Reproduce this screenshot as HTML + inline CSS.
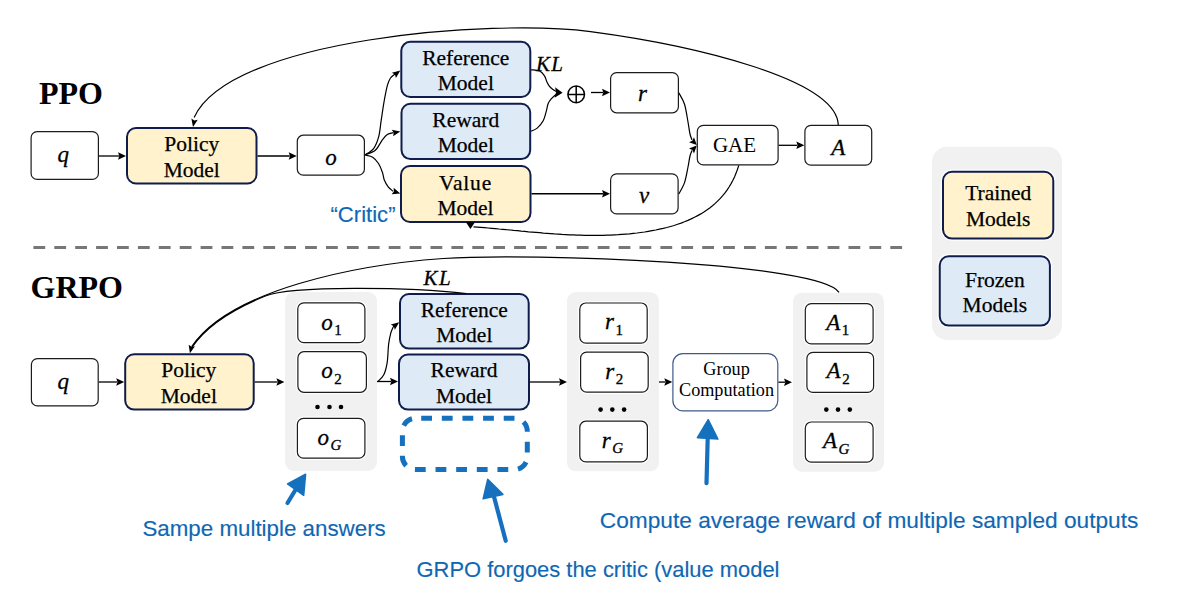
<!DOCTYPE html>
<html><head><meta charset="utf-8"><title>PPO vs GRPO</title>
<style>html,body{margin:0;padding:0;background:#fff;}svg{display:block;} .st{stroke:#000;stroke-width:0.25px;} .mi{stroke:#000;stroke-width:0.3px;} .an{stroke:#0f67b3;stroke-width:0.15px;}</style>
</head><body>
<svg width="1200" height="616" viewBox="0 0 1200 616">
<rect width="1200" height="616" fill="#fff"/>
<text x="39" y="104" font-family="'Liberation Serif', serif" font-size="32" text-anchor="start" font-weight="bold" font-style="normal" fill="#000" >PPO</text>
<rect x="31.10" y="131.60" width="67.30" height="47.80" rx="6" fill="#ffffff" stroke="#1c1c1c" stroke-width="1.2"/>
<text x="63.2" y="162" font-family="'Liberation Serif', serif" font-size="23" text-anchor="middle" font-weight="normal" font-style="italic" fill="#000" class="mi">q</text>
<rect x="127.00" y="128.00" width="129.50" height="55.50" rx="9" fill="#fff2cc" stroke="#0f1c4d" stroke-width="2"/>
<text x="191.75" y="151" font-family="'Liberation Serif', serif" font-size="21.5" text-anchor="middle" font-weight="normal" font-style="normal" fill="#000" class="st">Policy</text>
<text x="191.75" y="176.5" font-family="'Liberation Serif', serif" font-size="21.5" text-anchor="middle" font-weight="normal" font-style="normal" fill="#000" class="st">Model</text>
<path d="M99,156 L119,156" fill="none" stroke="#000" stroke-width="1.3" />
<path d="M126.00,156.00 L118.00,159.75 L119.30,156.00 L118.00,152.25 Z" fill="#000"/>
<rect x="297.30" y="135.20" width="67.10" height="40.00" rx="6" fill="#ffffff" stroke="#1c1c1c" stroke-width="1.2"/>
<text x="331" y="164.5" font-family="'Liberation Serif', serif" font-size="23" text-anchor="middle" font-weight="normal" font-style="italic" fill="#000" class="mi">o</text>
<path d="M257.5,156 L289.7,156" fill="none" stroke="#000" stroke-width="1.3" />
<path d="M296.70,156.00 L288.70,159.75 L290.00,156.00 L288.70,152.25 Z" fill="#000"/>
<rect x="401.30" y="41.80" width="129.00" height="55.20" rx="9" fill="#deebf7" stroke="#0f1c4d" stroke-width="2"/>
<text x="465.8" y="64.7" font-family="'Liberation Serif', serif" font-size="21.5" text-anchor="middle" font-weight="normal" font-style="normal" fill="#000" class="st">Reference</text>
<text x="465.8" y="90" font-family="'Liberation Serif', serif" font-size="21.5" text-anchor="middle" font-weight="normal" font-style="normal" fill="#000" class="st">Model</text>
<rect x="401.50" y="103.70" width="128.70" height="55.40" rx="9" fill="#deebf7" stroke="#0f1c4d" stroke-width="2"/>
<text x="465.8" y="126.5" font-family="'Liberation Serif', serif" font-size="21.5" text-anchor="middle" font-weight="normal" font-style="normal" fill="#000" class="st">Reward</text>
<text x="465.8" y="152" font-family="'Liberation Serif', serif" font-size="21.5" text-anchor="middle" font-weight="normal" font-style="normal" fill="#000" class="st">Model</text>
<rect x="401.00" y="166.00" width="129.50" height="56.00" rx="9" fill="#fff2cc" stroke="#0f1c4d" stroke-width="2"/>
<text x="465.5" y="189.8" font-family="'Liberation Serif', serif" font-size="21.5" text-anchor="middle" font-weight="normal" font-style="normal" fill="#000" class="st" letter-spacing="0.8">Value</text>
<text x="465.5" y="215.3" font-family="'Liberation Serif', serif" font-size="21.5" text-anchor="middle" font-weight="normal" font-style="normal" fill="#000" class="st">Model</text>
<text x="363" y="221.5" font-family="'Liberation Sans', sans-serif" font-size="22" text-anchor="middle" font-weight="normal" font-style="normal" fill="#0f67b3" class="an" textLength="65" lengthAdjust="spacingAndGlyphs">“Critic”</text>
<path d="M365.1,154.8 C366.5,153.8 371.3,151.6 373.6,148.6 C375.9,145.6 377.4,141.5 378.7,136.7 C380.0,131.9 380.4,125.4 381.3,119.7 C382.2,114.0 382.9,108.3 383.9,102.6 C384.9,96.9 386.2,89.7 387.3,85.6 C388.4,81.5 389.2,79.9 390.5,78.0 C391.8,76.1 394.2,74.7 395.0,74.0" fill="none" stroke="#000" stroke-width="1.2" />
<path d="M400.30,70.60 L395.94,78.12 L394.94,74.62 L391.86,72.68 Z" fill="#000"/>
<path d="M365.1,154.8 C366.8,154.1 372.5,152.8 375.3,150.3 C378.1,147.9 380.2,142.7 382.2,140.1 C384.2,137.5 385.4,135.8 387.3,134.6 C389.2,133.3 392.5,132.9 393.5,132.6" fill="none" stroke="#000" stroke-width="1.2" />
<path d="M400.30,131.40 L393.12,136.30 L393.73,132.71 L391.79,129.63 Z" fill="#000"/>
<path d="M365.1,155.0 C366.4,155.4 370.5,155.8 372.7,157.2 C374.9,158.6 376.9,161.0 378.5,163.5 C380.1,166.0 381.4,169.6 382.4,172.3 C383.4,175.1 383.3,177.6 384.3,180.0 C385.3,182.4 386.7,185.0 388.2,186.9 C389.7,188.8 392.3,190.6 393.1,191.3" fill="none" stroke="#000" stroke-width="1.2" />
<path d="M400.30,193.40 L391.66,194.36 L393.88,191.47 L393.61,187.84 Z" fill="#000"/>
<text x="536" y="70.5" font-family="'Liberation Serif', serif" font-size="21" text-anchor="start" font-weight="normal" font-style="italic" fill="#000" class="mi" letter-spacing="1.3">KL</text>
<path d="M531.1,69.8 C532.5,70.0 537.4,70.0 539.6,71.0 C541.8,72.0 543.3,74.0 544.5,75.8 C545.7,77.6 546.1,80.2 546.9,81.9 C547.7,83.6 548.3,84.9 549.3,86.2 C550.3,87.5 551.7,88.5 553.0,89.5 C554.3,90.5 556.3,91.6 557.0,92.0" fill="none" stroke="#000" stroke-width="1.2" />
<path d="M531.1,131.2 C532.1,130.7 535.2,129.8 537.2,128.1 C539.2,126.4 541.7,123.6 543.2,120.8 C544.7,118.0 545.5,113.9 546.3,111.1 C547.1,108.3 547.3,105.8 548.1,103.8 C548.9,101.8 549.7,100.6 551.2,98.9 C552.7,97.2 556.0,94.4 557.0,93.5" fill="none" stroke="#000" stroke-width="1.2" />
<path d="M562.60,92.80 L554.55,97.65 L556.11,92.48 L555.07,87.17 Z" fill="#000"/>
<circle cx="576.2" cy="94.4" r="8.3" fill="none" stroke="#000" stroke-width="1.5"/>
<path d="M567.9,94.4 L584.5,94.4 M576.2,86.1 L576.2,102.7" fill="none" stroke="#000" stroke-width="1.5" />
<path d="M591,92.5 L603,92.5" fill="none" stroke="#000" stroke-width="1.3" />
<path d="M610.00,92.50 L602.00,96.25 L603.30,92.50 L602.00,88.75 Z" fill="#000"/>
<rect x="610.60" y="72.60" width="67.80" height="40.20" rx="6" fill="#ffffff" stroke="#1c1c1c" stroke-width="1.2"/>
<text x="642.5" y="101" font-family="'Liberation Serif', serif" font-size="23" text-anchor="middle" font-weight="normal" font-style="italic" fill="#000" class="mi">r</text>
<rect x="610.60" y="173.90" width="67.50" height="40.00" rx="6" fill="#ffffff" stroke="#1c1c1c" stroke-width="1.2"/>
<text x="644" y="202.5" font-family="'Liberation Serif', serif" font-size="23" text-anchor="middle" font-weight="normal" font-style="italic" fill="#000" class="mi">v</text>
<path d="M531.5,193.75 L603,193.75" fill="none" stroke="#000" stroke-width="1.3" />
<path d="M610.00,193.75 L602.00,197.50 L603.30,193.75 L602.00,190.00 Z" fill="#000"/>
<rect x="697.30" y="125.40" width="80.80" height="39.50" rx="6" fill="#ffffff" stroke="#1c1c1c" stroke-width="1.2"/>
<text x="734.5" y="151.6" font-family="'Liberation Serif', serif" font-size="21" text-anchor="middle" font-weight="normal" font-style="normal" fill="#000" >GAE</text>
<path d="M678.8,92.8 C679.8,94.8 683.1,99.6 684.6,104.5 C686.1,109.4 687.1,117.1 688.0,122.0 C688.9,126.9 689.3,131.0 690.0,134.0 C690.7,137.0 691.7,139.0 692.0,140.0" fill="none" stroke="#000" stroke-width="1.2" />
<path d="M696.80,145.10 L689.02,142.27 L692.42,140.72 L693.97,137.32 Z" fill="#000"/>
<path d="M678.8,194.0 C679.8,192.1 683.1,186.9 684.6,182.4 C686.1,177.9 687.1,171.4 688.0,167.0 C688.9,162.6 689.3,158.8 690.0,156.0 C690.7,153.2 691.7,151.4 692.0,150.5" fill="none" stroke="#000" stroke-width="1.2" />
<path d="M696.80,145.60 L693.97,153.38 L692.42,149.98 L689.02,148.43 Z" fill="#000"/>
<path d="M778.7,145.3 L797.3,145.3" fill="none" stroke="#000" stroke-width="1.3" />
<path d="M804.30,145.30 L796.30,149.05 L797.60,145.30 L796.30,141.55 Z" fill="#000"/>
<rect x="804.90" y="125.40" width="66.80" height="39.80" rx="6" fill="#ffffff" stroke="#1c1c1c" stroke-width="1.2"/>
<text x="838.3" y="154.7" font-family="'Liberation Serif', serif" font-size="23" text-anchor="middle" font-weight="normal" font-style="italic" fill="#000" class="mi">A</text>
<path d="M738.8,165.4 L737.5,169.3 L736.1,173.1 L734.6,176.8 L732.9,180.3 L731.1,183.6 L729.2,186.8 L727.2,189.9 L725.0,192.9 L722.7,195.7 L720.3,198.4 L717.8,200.9 L715.2,203.4 L712.5,205.7 L709.7,207.9 L706.8,210.0 L703.9,212.0 L700.8,213.9 L697.7,215.6 L694.5,217.3 L691.2,218.9 L687.9,220.4 L684.5,221.8 L681.1,223.1 L677.6,224.3 L674.1,225.5 L670.5,226.5 L666.9,227.5 L663.2,228.4 L659.5,229.2 L655.8,230.0 L652.1,230.7 L648.3,231.4 L644.6,232.0 L640.8,232.5 L637.0,233.0 L633.3,233.4 L629.5,233.8 L625.7,234.1 L621.9,234.4 L618.2,234.7 L614.4,234.9 L610.6,235.1 L606.9,235.2 L603.1,235.3 L599.3,235.4 L595.6,235.4 L591.8,235.4 L588.1,235.4 L584.3,235.3 L580.6,235.2 L576.8,235.1 L573.1,234.9 L569.4,234.8 L565.6,234.6 L561.9,234.4 L558.2,234.1 L554.4,233.9 L550.7,233.6 L547.0,233.3 L543.3,233.1 L539.6,232.7 L535.9,232.4 L532.2,232.1 L528.5,231.8 L524.8,231.4 L521.1,231.1 L517.4,230.7 L513.7,230.4 L510.0,230.0 L506.3,229.7 L502.7,229.3 L499.0,229.0 L495.3,228.6 L491.7,228.3 L488.0,228.0 L484.4,227.7 L480.8,227.4 L477.1,227.1 L473.5,226.8" fill="none" stroke="#000" stroke-width="1.2" />
<path d="M465.8,222 L474.8,222.4 L470.4,229 Z" fill="#000"/>
<path d="M194.1,117.5 C230.2,38.3 492.6,18.6 590.5,31.6 C692.1,45.1 836.7,78.6 838.3,125.0" fill="none" stroke="#000" stroke-width="1.2" />
<path d="M193.00,127.00 L191.38,118.52 L194.31,120.43 L197.76,119.79 Z" fill="#000"/>
<line x1="33" y1="247.5" x2="902.4" y2="247.5" stroke="#777" stroke-width="3" stroke-dasharray="11.8 9.1" stroke-dashoffset="-0.4"/>
<rect x="932" y="146.8" width="130" height="193.2" rx="15" fill="#f1f1f1"/>
<rect x="943.00" y="171.70" width="110.30" height="66.90" rx="9" fill="#fff" stroke="#fff" stroke-width="4.4"/>
<rect x="943.00" y="171.70" width="110.30" height="66.90" rx="9" fill="#fff2cc" stroke="#0f1c4d" stroke-width="2"/>
<text x="998.2" y="199.8" font-family="'Liberation Serif', serif" font-size="21.5" text-anchor="middle" font-weight="normal" font-style="normal" fill="#000" class="st">Trained</text>
<text x="998.2" y="225.7" font-family="'Liberation Serif', serif" font-size="21.5" text-anchor="middle" font-weight="normal" font-style="normal" fill="#000" class="st">Models</text>
<rect x="939.75" y="256.20" width="110.15" height="69.40" rx="9" fill="#fff" stroke="#fff" stroke-width="4.4"/>
<rect x="939.75" y="256.20" width="110.15" height="69.40" rx="9" fill="#deebf7" stroke="#0f1c4d" stroke-width="2"/>
<text x="994.8" y="286.8" font-family="'Liberation Serif', serif" font-size="21.5" text-anchor="middle" font-weight="normal" font-style="normal" fill="#000" class="st">Frozen</text>
<text x="994.8" y="312.3" font-family="'Liberation Serif', serif" font-size="21.5" text-anchor="middle" font-weight="normal" font-style="normal" fill="#000" class="st">Models</text>
<text x="30.5" y="298" font-family="'Liberation Serif', serif" font-size="32" text-anchor="start" font-weight="bold" font-style="normal" fill="#000" >GRPO</text>
<rect x="31.40" y="358.60" width="66.80" height="47.30" rx="6" fill="#ffffff" stroke="#1c1c1c" stroke-width="1.2"/>
<text x="63.3" y="389" font-family="'Liberation Serif', serif" font-size="23" text-anchor="middle" font-weight="normal" font-style="italic" fill="#000" class="mi">q</text>
<rect x="125.20" y="354.20" width="128.50" height="55.40" rx="9" fill="#fff2cc" stroke="#0f1c4d" stroke-width="2"/>
<text x="188.8" y="377" font-family="'Liberation Serif', serif" font-size="21.5" text-anchor="middle" font-weight="normal" font-style="normal" fill="#000" class="st">Policy</text>
<text x="188.8" y="402.5" font-family="'Liberation Serif', serif" font-size="21.5" text-anchor="middle" font-weight="normal" font-style="normal" fill="#000" class="st">Model</text>
<path d="M98.8,382 L117.2,382" fill="none" stroke="#000" stroke-width="1.3" />
<path d="M124.20,382.00 L116.20,385.75 L117.50,382.00 L116.20,378.25 Z" fill="#000"/>
<path d="M254.7,382 L277.4,382" fill="none" stroke="#000" stroke-width="1.3" />
<path d="M284.40,382.00 L276.40,385.75 L277.70,382.00 L276.40,378.25 Z" fill="#000"/>
<rect x="285" y="292" width="92" height="179" rx="9" fill="#f1f1f1"/>
<rect x="297.80" y="302.80" width="67.10" height="39.90" rx="6" fill="#fff" stroke="#fff" stroke-width="3.5999999999999996"/>
<rect x="297.80" y="302.80" width="67.10" height="39.90" rx="6" fill="#ffffff" stroke="#1c1c1c" stroke-width="1.2"/>
<text class="mi" x="331.4" y="329.7" font-family="Liberation Serif, serif" font-size="23" text-anchor="middle" font-style="italic">o<tspan font-size="15" font-style="normal" dx="1.5" dy="5.5">1</tspan></text>
<rect x="297.90" y="351.70" width="68.50" height="40.60" rx="6" fill="#fff" stroke="#fff" stroke-width="3.5999999999999996"/>
<rect x="297.90" y="351.70" width="68.50" height="40.60" rx="6" fill="#ffffff" stroke="#1c1c1c" stroke-width="1.2"/>
<text class="mi" x="331.4" y="378.3" font-family="Liberation Serif, serif" font-size="23" text-anchor="middle" font-style="italic">o<tspan font-size="15" font-style="normal" dx="1.5" dy="5.5">2</tspan></text>
<circle cx="317.5" cy="407" r="2.3" fill="#000"/>
<circle cx="329.5" cy="407" r="2.3" fill="#000"/>
<circle cx="341" cy="407" r="2.3" fill="#000"/>
<rect x="297.40" y="418.30" width="67.50" height="39.85" rx="6" fill="#fff" stroke="#fff" stroke-width="3.5999999999999996"/>
<rect x="297.40" y="418.30" width="67.50" height="39.85" rx="6" fill="#ffffff" stroke="#1c1c1c" stroke-width="1.2"/>
<text class="mi" x="329.5" y="444.5" font-family="Liberation Serif, serif" font-size="23" text-anchor="middle" font-style="italic">o<tspan font-size="15" font-style="italic" dx="1.5" dy="5.5">G</tspan></text>
<path d="M377,381.5 L391,381.5" fill="none" stroke="#000" stroke-width="1.3" />
<path d="M398.00,381.50 L390.00,385.25 L391.30,381.50 L390.00,377.75 Z" fill="#000"/>
<path d="M377.6,381.7 C378.6,380.6 382.2,378.0 383.8,374.8 C385.4,371.6 386.4,367.5 387.2,362.4 C388.0,357.3 388.0,349.2 388.6,344.4 C389.2,339.6 390.0,336.2 390.7,333.4 C391.4,330.6 392.4,328.8 393.0,327.5 C393.6,326.2 394.2,325.8 394.5,325.5" fill="none" stroke="#000" stroke-width="1.2" />
<path d="M399.20,322.30 L394.84,329.82 L393.84,326.32 L390.76,324.38 Z" fill="#000"/>
<rect x="400.00" y="294.00" width="128.70" height="54.60" rx="9" fill="#deebf7" stroke="#0f1c4d" stroke-width="2"/>
<text x="464.3" y="316.5" font-family="'Liberation Serif', serif" font-size="21.5" text-anchor="middle" font-weight="normal" font-style="normal" fill="#000" class="st">Reference</text>
<text x="464.3" y="342" font-family="'Liberation Serif', serif" font-size="21.5" text-anchor="middle" font-weight="normal" font-style="normal" fill="#000" class="st">Model</text>
<rect x="399.00" y="354.50" width="130.00" height="55.10" rx="9" fill="#deebf7" stroke="#0f1c4d" stroke-width="2"/>
<text x="464" y="377" font-family="'Liberation Serif', serif" font-size="21.5" text-anchor="middle" font-weight="normal" font-style="normal" fill="#000" class="st">Reward</text>
<text x="464" y="402.5" font-family="'Liberation Serif', serif" font-size="21.5" text-anchor="middle" font-weight="normal" font-style="normal" fill="#000" class="st">Model</text>
<rect x="402.4" y="418.3" width="124.9" height="51.3" rx="13" fill="none" stroke="#1571be" stroke-width="5" stroke-dasharray="10.8 9.83" stroke-dashoffset="-5.8"/>
<path d="M530,382 L560,382" fill="none" stroke="#000" stroke-width="1.3" />
<path d="M567.00,382.00 L559.00,385.75 L560.30,382.00 L559.00,378.25 Z" fill="#000"/>
<rect x="567" y="292" width="92" height="179.3" rx="9" fill="#f1f1f1"/>
<rect x="579.80" y="303.00" width="67.40" height="40.10" rx="6" fill="#fff" stroke="#fff" stroke-width="3.5999999999999996"/>
<rect x="579.80" y="303.00" width="67.40" height="40.10" rx="6" fill="#ffffff" stroke="#1c1c1c" stroke-width="1.2"/>
<text class="mi" x="614.1" y="329" font-family="Liberation Serif, serif" font-size="23" text-anchor="middle" font-style="italic">r<tspan font-size="15" font-style="normal" dx="1.5" dy="5.5">1</tspan></text>
<rect x="580.60" y="352.10" width="67.60" height="40.00" rx="6" fill="#fff" stroke="#fff" stroke-width="3.5999999999999996"/>
<rect x="580.60" y="352.10" width="67.60" height="40.00" rx="6" fill="#ffffff" stroke="#1c1c1c" stroke-width="1.2"/>
<text class="mi" x="614.25" y="378.5" font-family="Liberation Serif, serif" font-size="23" text-anchor="middle" font-style="italic">r<tspan font-size="15" font-style="normal" dx="1.5" dy="5.5">2</tspan></text>
<circle cx="600.6" cy="409.6" r="2.3" fill="#000"/>
<circle cx="612.3" cy="409.6" r="2.3" fill="#000"/>
<circle cx="624.1" cy="409.6" r="2.3" fill="#000"/>
<rect x="579.80" y="421.20" width="67.60" height="40.70" rx="6" fill="#fff" stroke="#fff" stroke-width="3.5999999999999996"/>
<rect x="579.80" y="421.20" width="67.60" height="40.70" rx="6" fill="#ffffff" stroke="#1c1c1c" stroke-width="1.2"/>
<text class="mi" x="612.5" y="447.8" font-family="Liberation Serif, serif" font-size="23" text-anchor="middle" font-style="italic">r<tspan font-size="15" font-style="italic" dx="1.5" dy="5.5">G</tspan></text>
<path d="M659,382 L665.3,382" fill="none" stroke="#000" stroke-width="1.3" />
<path d="M672.30,382.00 L664.30,385.75 L665.60,382.00 L664.30,378.25 Z" fill="#000"/>
<rect x="672.90" y="353.60" width="104.90" height="57.20" rx="10" fill="#ffffff" stroke="#3f5a88" stroke-width="1.2"/>
<text x="726.5" y="375" font-family="'Liberation Serif', serif" font-size="18.2" text-anchor="middle" font-weight="normal" font-style="normal" fill="#000" >Group</text>
<text x="726.5" y="395.8" font-family="'Liberation Serif', serif" font-size="18.2" text-anchor="middle" font-weight="normal" font-style="normal" fill="#000" >Computation</text>
<path d="M778.4,382.2 L785,382.2" fill="none" stroke="#000" stroke-width="1.3" />
<path d="M792.00,382.20 L784.00,385.95 L785.30,382.20 L784.00,378.45 Z" fill="#000"/>
<rect x="793" y="292.7" width="91" height="179" rx="9" fill="#f1f1f1"/>
<rect x="805.30" y="303.60" width="67.80" height="40.30" rx="6" fill="#fff" stroke="#fff" stroke-width="3.5999999999999996"/>
<rect x="805.30" y="303.60" width="67.80" height="40.30" rx="6" fill="#ffffff" stroke="#1c1c1c" stroke-width="1.2"/>
<text class="mi" x="837.75" y="329.7" font-family="Liberation Serif, serif" font-size="23" text-anchor="middle" font-style="italic">A<tspan font-size="15" font-style="normal" dx="1.5" dy="5.5">1</tspan></text>
<rect x="806.90" y="352.40" width="66.70" height="40.00" rx="6" fill="#fff" stroke="#fff" stroke-width="3.5999999999999996"/>
<rect x="806.90" y="352.40" width="66.70" height="40.00" rx="6" fill="#ffffff" stroke="#1c1c1c" stroke-width="1.2"/>
<text class="mi" x="838.1" y="378" font-family="Liberation Serif, serif" font-size="23" text-anchor="middle" font-style="italic">A<tspan font-size="15" font-style="normal" dx="1.5" dy="5.5">2</tspan></text>
<circle cx="826.3" cy="409.6" r="2.3" fill="#000"/>
<circle cx="838" cy="409.6" r="2.3" fill="#000"/>
<circle cx="849.8" cy="409.6" r="2.3" fill="#000"/>
<rect x="805.30" y="422.00" width="67.80" height="40.20" rx="6" fill="#fff" stroke="#fff" stroke-width="3.5999999999999996"/>
<rect x="805.30" y="422.00" width="67.80" height="40.20" rx="6" fill="#ffffff" stroke="#1c1c1c" stroke-width="1.2"/>
<text class="mi" x="836.1" y="448" font-family="Liberation Serif, serif" font-size="23" text-anchor="middle" font-style="italic">A<tspan font-size="15" font-style="italic" dx="1.5" dy="5.5">G</tspan></text>
<path d="M839.0,292.4 C821.3,263.0 530.0,252.5 443.5,258.5 C356.1,264.6 230.2,289.8 191.7,346.7" fill="none" stroke="#000" stroke-width="1.2" />
<path d="M189.90,353.30 L188.69,344.75 L191.52,346.80 L194.99,346.33 Z" fill="#000"/>
<path d="M466,293 C410,286.5 291.0,285.0 265.0,295.5 C232.7,308.6 206.1,325.4 191.7,346.7" fill="none" stroke="#000" stroke-width="1.2" transform="translate(0.4,0.5)"/>
<text x="423.6" y="284.7" font-family="'Liberation Serif', serif" font-size="21" text-anchor="start" font-weight="normal" font-style="italic" fill="#000" class="mi" letter-spacing="1.3">KL</text>
<path d="M305.6,474.2 L287.5,484 L303.7,495.3 Z" fill="#1571be" stroke="#1571be" stroke-width="1.5" stroke-linejoin="round"/>
<path d="M296,489 L287.5,503" fill="none" stroke="#1571be" stroke-width="4.2" stroke-linecap="round"/>
<path d="M487.7,479.4 L483.1,498.8 L502.9,494.4 Z" fill="#1571be" stroke="#1571be" stroke-width="1.5" stroke-linejoin="round"/>
<path d="M493.8,496 L505.7,540.8" fill="none" stroke="#1571be" stroke-width="4.2" stroke-linecap="round"/>
<path d="M708.2,419.7 L697.4,437.7 L717.9,439.1 Z" fill="#1571be" stroke="#1571be" stroke-width="1.5" stroke-linejoin="round"/>
<path d="M707.7,438 L706.5,483.2" fill="none" stroke="#1571be" stroke-width="4.2" stroke-linecap="round"/>
<text x="142.4" y="536" font-family="'Liberation Sans', sans-serif" font-size="22" text-anchor="start" font-weight="normal" font-style="normal" fill="#0f67b3" class="an" textLength="243.4" lengthAdjust="spacingAndGlyphs">Sampe multiple answers</text>
<text x="416.5" y="577.2" font-family="'Liberation Sans', sans-serif" font-size="22" text-anchor="start" font-weight="normal" font-style="normal" fill="#0f67b3" class="an" textLength="363" lengthAdjust="spacingAndGlyphs">GRPO forgoes the critic (value model</text>
<text x="599.8" y="527.5" font-family="'Liberation Sans', sans-serif" font-size="22" text-anchor="start" font-weight="normal" font-style="normal" fill="#0f67b3" class="an" textLength="538.6" lengthAdjust="spacingAndGlyphs">Compute average reward of multiple sampled outputs</text>
</svg>
</body></html>
